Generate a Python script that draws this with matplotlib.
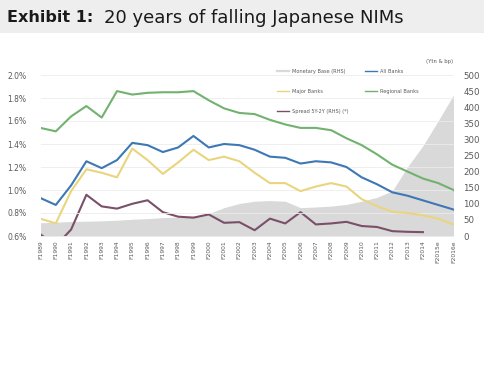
import matplotlib.pyplot as plt
import numpy as np
from matplotlib.lines import Line2D

years = ["F1989", "F1990", "F1991", "F1992", "F1993", "F1994", "F1995", "F1996", "F1997", "F1998",
         "F1999", "F2000", "F2001", "F2002", "F2003", "F2004", "F2005", "F2006", "F2007", "F2008",
         "F2009", "F2010", "F2011", "F2012", "F2013", "F2014", "F2015e", "F2016e"]
regional_banks = [1.54, 1.51, 1.64, 1.73, 1.63, 1.86, 1.83, 1.845, 1.85, 1.85, 1.86, 1.78, 1.71, 1.67,
                  1.66, 1.61, 1.57, 1.54, 1.54, 1.52, 1.45, 1.39, 1.31, 1.22, 1.16, 1.10, 1.06, 1.00]
all_banks = [0.93, 0.87, 1.04, 1.25, 1.19, 1.26, 1.41, 1.39, 1.33, 1.37, 1.47, 1.37, 1.40, 1.39,
             1.35, 1.29, 1.28, 1.23, 1.25, 1.24, 1.20, 1.11, 1.05, 0.98, 0.95, 0.91, 0.87, 0.83]
major_banks = [0.75, 0.71, 0.99, 1.18, 1.15, 1.11, 1.36, 1.26, 1.14, 1.24, 1.35, 1.26, 1.29, 1.25,
               1.15, 1.06, 1.06, 0.99, 1.03, 1.06, 1.03, 0.92, 0.86, 0.81, 0.80, 0.78, 0.75, 0.70]
spread_5y2y = [5, -30, 20, 128, 92, 85, 100, 111, 74, 60, 57, 67, 41, 43,
               18, 54, 39, 74, 36, 39, 44, 31, 28, 15, 13, 12, np.nan, np.nan]
monetary_base = [41, 43, 45, 46, 47, 49, 52, 54, 57, 59, 62, 70, 88, 101,
                 108, 110, 108, 88, 90, 93, 98, 108, 120, 140, 215, 280, 358, 438]

left_ticks = [0.6, 0.8, 1.0, 1.2, 1.4, 1.6, 1.8, 2.0]
right_ticks = list(range(0, 501, 50))

c_green = "#72b26f"
c_blue = "#3d78b4"
c_yellow = "#e9d57e"
c_purple = "#7a5068"
c_area = "#d9d9d9"
c_text = "#595959"

fig = plt.figure(figsize=(4.84, 3.66), dpi=100)
fig.patch.set_facecolor("white")

# title band
fig.patches.append(plt.Rectangle((0, 1 - 33 / 366), 1, 33 / 366, transform=fig.transFigure,
                                 facecolor="#eeeeee", edgecolor="none", zorder=0))
fig.text(7 / 484, 1 - 18 / 366, "Exhibit 1:", fontsize=11.5, fontweight="bold", color="#1a1a1a",
         va="center", ha="left", family="DejaVu Sans")
fig.text(104 / 484, 1 - 18 / 366, "20 years of falling Japanese NIMs", fontsize=13, color="#1a1a1a",
         va="center", ha="left", family="DejaVu Sans")

ax = fig.add_axes([40.5 / 484, 1 - 236 / 366, 413 / 484, 161 / 366])
ax2 = ax.twinx()
x = np.arange(len(years))

ax.set_zorder(2)
ax.patch.set_visible(False)
ax2.set_zorder(1)

ax2.fill_between(x, 0, monetary_base, color=c_area, linewidth=0, zorder=1)
ax2.plot(x, spread_5y2y, color=c_purple, lw=1.5, solid_joinstyle="round", zorder=3)
ax2.set_ylim(0, 500)
ax2.set_yticks(right_ticks)

for yv in left_ticks:
    ax.axhline(yv, color="#ececec", lw=0.6, zorder=0)
ax.plot(x, regional_banks, color=c_green, lw=1.5, solid_joinstyle="round")
ax.plot(x, all_banks, color=c_blue, lw=1.5, solid_joinstyle="round")
ax.plot(x, major_banks, color=c_yellow, lw=1.5, solid_joinstyle="round")
ax.set_ylim(0.6, 2.0)
ax.set_xlim(0, len(years) - 1)
ax.set_yticks(left_ticks)
ax.set_yticklabels([f"{v:.1f}%" for v in left_ticks])
ax.set_xticks(x)
ax.set_xticklabels(years, rotation=90)

for a in (ax, ax2):
    for s in a.spines.values():
        s.set_visible(False)
ax.tick_params(axis="y", length=0, pad=10, labelsize=5.5, labelcolor=c_text)
ax.tick_params(axis="x", length=0, pad=3, labelsize=4.3, labelcolor=c_text)
ax2.tick_params(axis="y", length=0, pad=7, labelsize=6.2, labelcolor=c_text)

fig.text(453 / 484, 1 - 61 / 366, "(Ytn & bp)", fontsize=3.8, color=c_text, ha="right", va="center")

handles = [
    Line2D([], [], color=c_area, lw=1.6),
    Line2D([], [], color=c_yellow, lw=1.0),
    Line2D([], [], color=c_purple, lw=1.0),
    Line2D([], [], color=c_blue, lw=1.0),
    Line2D([], [], color=c_green, lw=1.0),
]
labels = ["Monetary Base (RHS)", "Major Banks", "Spread 5Y-2Y (RHS) (*)", "All Banks", "Regional Banks"]
fig.legend(handles, labels, ncol=2, loc="upper left", bbox_to_anchor=(277 / 484, 1 - 69 / 366),
           frameon=False, fontsize=3.6, labelcolor=c_text, handlelength=2.4, handletextpad=0.6,
           labelspacing=3.0, columnspacing=3.2, borderaxespad=0, borderpad=0)

fig.savefig("out.png", dpi=100)
